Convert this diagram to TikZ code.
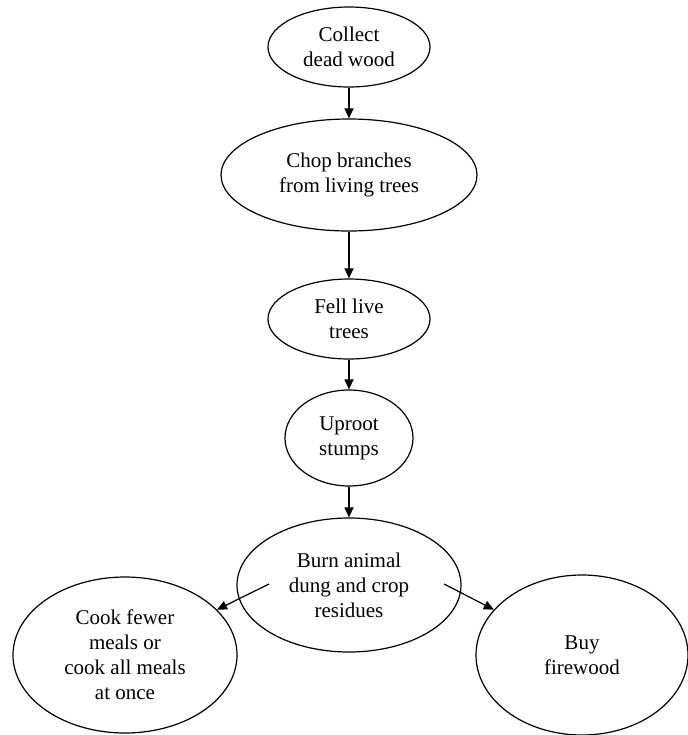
\documentclass[tikz,border=0pt]{standalone}
\usepackage{fontspec}
\setmainfont{Liberation Serif}
\usetikzlibrary{shapes.geometric,arrows.meta}
\tikzset{
  act/.style={draw,ellipse,align=center,inner sep=0pt,line width=0.6pt,
    font=\fontsize{10.5}{12.5}\selectfont},
  flow/.style={line width=0.6pt,-{Triangle[length=5pt,width=4.5pt]}}
}
\begin{document}
\begin{tikzpicture}[x=0.5pt,y=-0.5pt]
\useasboundingbox (0,0) rectangle (687,735);
% main chain
\node[act,minimum width=81pt,minimum height=40pt] (collect) at (349,47) {Collect\\dead wood};
\node[act,minimum width=128pt,minimum height=56pt] (chop) at (349,175) {Chop branches\\from living trees};
\node[act,minimum width=81pt,minimum height=40pt] (fell) at (349,319) {Fell live\\trees};
\node[act,minimum width=64pt,minimum height=48pt] (uproot) at (349,438) {Uproot\\stumps};
\node[act,minimum width=112pt,minimum height=67pt] (burn) at (349,585) {Burn animal\\dung and crop\\residues};
% last resorts
\node[act,minimum width=112pt,minimum height=78pt] (cook) at (125,655) {Cook fewer\\meals or\\cook all meals\\at once};
\node[act,minimum width=106pt,minimum height=80pt] (buy) at (582,655) {Buy\\firewood};
\draw[flow] (collect) -- (chop);
\draw[flow] (chop) -- (fell);
\draw[flow] (fell) -- (uproot);
\draw[flow] (uproot) -- (burn);
\coordinate (burnL) at (269,584);
\coordinate (burnR) at (444,584);
\draw[flow] (burnL) -- (cook);
\draw[flow] (burnR) -- (buy);
\end{tikzpicture}
\end{document}
